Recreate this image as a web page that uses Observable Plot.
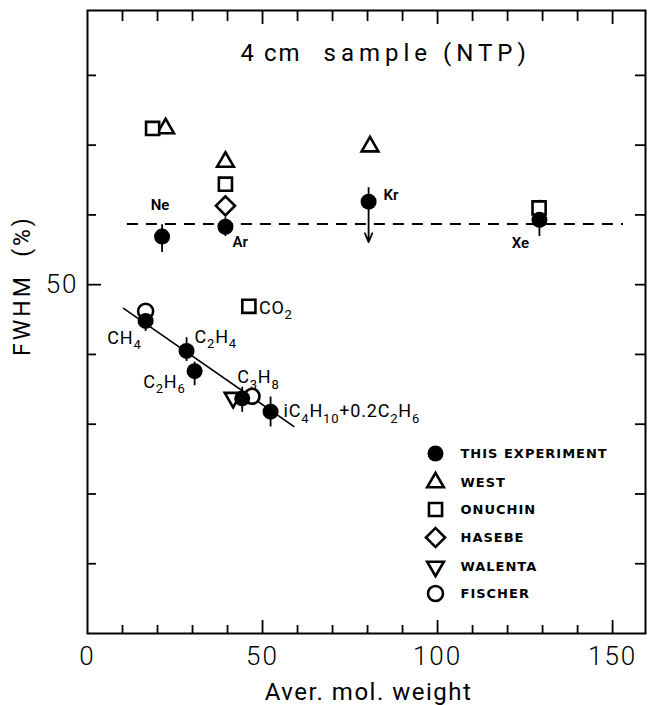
<!DOCTYPE html>
<html><head><meta charset="utf-8">
<script src="https://cdn.jsdelivr.net/npm/d3@7"></script>
<script src="https://cdn.jsdelivr.net/npm/@observablehq/plot@0.6"></script>
<style>
body{margin:0;background:#fff;}
#chart svg{display:block;}
</style></head><body><div id="chart"></div>
<script>
// ---------- data ----------
const gasNames   = ["Ne","Ar","Kr","Xe","CH4","C2H4","C2H6","C3H8","iC4H10+0.2C2H6"];
const thisWeight = [21.3, 39.4, 80.3, 129.1, 16.6, 28.3, 30.6, 44.2, 52.3];
const thisFwhm   = [56.9, 58.3, 61.9, 59.3, 44.8, 40.5, 37.6, 33.7, 31.8];
const errHigh    = [58.6, 59.6, 63.9, 62.1, 46.3, 42.4, 38.9, 35.3, 33.9];
const errLow     = [54.6, 56.9, 61.9, 56.9, 43.3, 39.0, 35.5, 31.7, 29.6];
const limitGas   = ["Kr"];
const limitTo    = [56.1];

const westWeight    = [22.3, 39.4, 80.7];
const westFwhm      = [72.4, 67.6, 69.8];
const onuchinWeight = [18.6, 39.4, 129.0, 46.1];
const onuchinFwhm   = [72.4, 64.4, 61.0, 46.9];
const onuchinLabels = ["", "", "", "CO2"];
const hasebeWeight  = [39.4];
const hasebeFwhm    = [61.3];
const walentaWeight = [41.6];
const walentaFwhm   = [33.8];
const fischerWeight = [16.6, 47.0];
const fischerFwhm   = [46.2, 34.0];

const fitWeight = [10.3, 58.9];
const fitFwhm   = [46.6, 29.7];
const refWeight = [11.4, 153.1];
const refFwhm   = [58.7];

const xTickLabels = [0, 50, 100, 150];
const yTickLabels = [50];
const xMinorTicks = [10,20,30,40,60,70,80,90,110,120,130,140];
const xMajorTicks = [50,100,150];
const yMinorTicks = [10,20,30,40,60,70,80];
const yMajorTicks = [50];
const legendNames = ["THIS EXPERIMENT","WEST","ONUCHIN","HASEBE","WALENTA","FISCHER"];
const titleParts  = ["4 cm", "sample (NTP)"];
const xTitle = "Aver. mol. weight";
const yTitle = "FWHM  (%)";

// ---------- styles / layout ----------
const FONT = "Roboto, 'DejaVu Sans', sans-serif";
const styles = {
  THIS:    {symbol:"circle",   r:8,   fill:"black", stroke:"none", rotate:0},
  WEST:    {symbol:"triangle", r:6.2, fill:"white", stroke:"black", rotate:0},
  ONUCHIN: {symbol:"square",   r:7.4, fill:"white", stroke:"black", rotate:0},
  HASEBE:  {symbol:"square",   r:7.6, fill:"white", stroke:"black", rotate:45},
  WALENTA: {symbol:"triangle", r:6.2, fill:"white", stroke:"black", rotate:180},
  FISCHER: {symbol:"circle",   r:7.5, fill:"white", stroke:"black", rotate:0}
};
const legendStyleKeys = ["THIS","WEST","ONUCHIN","HASEBE","WALENTA","FISCHER"];
const legendRowDy = [443, 472, 499, 527, 556, 583];
const labelOffsets = {
  "Ne": {dx:-2, dy:-31, anchor:"middle", size:15},
  "Ar": {dx:7, dy:15, anchor:"start", size:15},
  "Kr": {dx:15, dy:-6, anchor:"start", size:15},
  "Xe": {dx:-19, dy:23, anchor:"middle", size:15},
  "CH4": {dx:-4, dy:17, anchor:"end", size:18},
  "C2H4": {dx:8, dy:-14, anchor:"start", size:18},
  "C2H6": {dx:-9, dy:11, anchor:"end", size:18},
  "C3H8": {dx:-5, dy:-21, anchor:"start", size:18},
  "iC4H10+0.2C2H6": {dx:13, dy:0, anchor:"start", size:18}
};

const thisData = gasNames.map((g,i)=>({g, x:thisWeight[i], y:thisFwhm[i], lo:errLow[i], hi:errHigh[i]}));
const limitData = limitGas.map((g,i)=>{const j=gasNames.indexOf(g); return {x:thisWeight[j], y1:thisFwhm[j], y2:limitTo[i]};});
const pts = (xs,ys)=>xs.map((x,i)=>({x, y:ys[i], i}));
const openSeries = [
  ["WEST", pts(westWeight, westFwhm)],
  ["ONUCHIN", pts(onuchinWeight, onuchinFwhm)],
  ["HASEBE", pts(hasebeWeight, hasebeFwhm)],
  ["WALENTA", pts(walentaWeight, walentaFwhm)],
  ["FISCHER", pts(fischerWeight, fischerFwhm)]
];

const marks = [];
// axes ticks (inward)
const tk = {stroke:"black", strokeWidth:1.8, tickFormat:()=>"", label:null};
marks.push(Plot.axisX(xMinorTicks, {anchor:"bottom", tickSize:-8, ...tk}));
marks.push(Plot.axisX(xMajorTicks, {anchor:"bottom", tickSize:-13, ...tk}));
marks.push(Plot.axisX(xMinorTicks, {anchor:"top", tickSize:-10, ...tk}));
marks.push(Plot.axisX(xMajorTicks, {anchor:"top", tickSize:-13, ...tk}));
marks.push(Plot.axisY(yMinorTicks, {anchor:"left", tickSize:-9, ...tk}));
marks.push(Plot.axisY(yMajorTicks, {anchor:"left", tickSize:-14, ...tk}));
marks.push(Plot.axisY([...yMinorTicks, ...yMajorTicks], {anchor:"right", tickSize:-11, ...tk}));
// tick labels
marks.push(Plot.axisX(xTickLabels, {anchor:"bottom", tickSize:0, tickPadding:13, fontSize:26, fontWeight:300, label:null, tickFormat:d=>String(d)}));
marks.push(Plot.axisY(yTickLabels, {anchor:"left", tickSize:0, tickPadding:9, fontSize:26, fontWeight:300, label:null, tickFormat:d=>String(d)}));
marks.push(Plot.frame({stroke:"black", strokeWidth:2}));

// reference dashed line and fit line
marks.push(Plot.ruleY(refFwhm, {x1:refWeight[0], x2:refWeight[1], stroke:"black", strokeWidth:2, strokeDasharray:"11,8"}));
marks.push(Plot.line(pts(fitWeight, fitFwhm), {x:"x", y:"y", stroke:"black", strokeWidth:1.6}));

// error bars + limit arrow
marks.push(Plot.ruleX(thisData, {x:"x", y1:"lo", y2:"hi", stroke:"black", strokeWidth:1.8}));
marks.push(Plot.arrow(limitData, {x1:"x", x2:"x", y1:"y1", y2:"y2", stroke:"black", strokeWidth:1.8, headLength:8, headAngle:45}));

// open markers
for (const [key, data] of openSeries) {
  const s = styles[key];
  marks.push(Plot.dot(data, {x:"x", y:"y", symbol:s.symbol, r:s.r, fill:s.fill, stroke:s.stroke, strokeWidth:2.6, rotate:s.rotate}));
}
// filled markers on top
marks.push(Plot.dot(thisData, {x:"x", y:"y", symbol:"circle", r:styles.THIS.r, fill:"black"}));

// labels
for (const d of thisData) {
  const o = labelOffsets[d.g];
  marks.push(Plot.text([d], {x:"x", y:"y", text:"g", dx:o.dx, dy:o.dy, textAnchor:o.anchor, lineAnchor:"middle", fontSize:o.size, fontWeight:o.size<16?600:400, fill:"black"}));
}
marks.push(Plot.text(openSeries[1][1].filter(d=>onuchinLabels[d.i]), {x:"x", y:"y", text:d=>onuchinLabels[d.i], dx:10, dy:2, textAnchor:"start", lineAnchor:"middle", fontSize:18, fill:"black"}));

// title
marks.push(Plot.text([titleParts[0]], {frameAnchor:"top-left", text:d=>d, dx:153, dy:43, textAnchor:"start", lineAnchor:"middle", fontSize:24, fill:"black"}));
marks.push(Plot.text([titleParts[1]], {frameAnchor:"top-left", text:d=>d, dx:236, dy:43, textAnchor:"start", lineAnchor:"middle", fontSize:24, fill:"black"}));

// axis titles
marks.push(Plot.text([xTitle], {frameAnchor:"bottom-left", text:d=>d, dx:281, dy:59, textAnchor:"middle", lineAnchor:"middle", fontSize:24, fill:"black"}));
marks.push(Plot.text([yTitle], {frameAnchor:"top-left", text:d=>d, dx:-65, dy:275, rotate:-90, textAnchor:"middle", lineAnchor:"middle", fontSize:23, fill:"black"}));

// legend
legendNames.forEach((name, i) => {
  const s = styles[legendStyleKeys[i]];
  marks.push(Plot.dot([name], {frameAnchor:"top-left", dx:348, dy:legendRowDy[i], symbol:s.symbol, r:s.r, fill:s.fill, stroke:s.stroke, strokeWidth: s.fill==="black"?0:2.6, rotate:s.rotate}));
  marks.push(Plot.text([name], {frameAnchor:"top-left", text:d=>d, dx:373, dy:legendRowDy[i], textAnchor:"start", lineAnchor:"middle", fontSize:13, fontWeight:"bold", fontFamily:"'DejaVu Sans', sans-serif", fill:"black"}));
});

const chart = Plot.plot({
  width:649, height:705,
  marginLeft:87, marginTop:10, marginRight:4, marginBottom:72,
  x:{domain:[0,159.4]},
  y:{domain:[0,89.3]},
  style:{fontFamily:FONT, background:"white", color:"black", overflow:"visible"},
  marks
});

// ---------- post-processing of text: subscripts & letter spacing ----------
const formulas = new Set([...gasNames, ...onuchinLabels].filter(s => /[A-Za-z]\d/.test(s)));
function fontSizeOf(t) {
  let n = t;
  while (n && n.getAttribute) { const v = n.getAttribute("font-size"); if (v) return parseFloat(v); n = n.parentNode; }
  return 16;
}
chart.querySelectorAll("text").forEach(t => {
  const s = t.textContent;
  if (formulas.has(s)) {
    const fs = fontSizeOf(t);
    const parts = s.split(/(?<=[A-Za-z])(\d+)/);
    t.textContent = "";
    t.style.letterSpacing = "0.8px";
    let shifted = false;
    parts.forEach((p, k) => {
      if (!p) return;
      const ts = document.createElementNS("http://www.w3.org/2000/svg", "tspan");
      ts.textContent = p;
      if (k % 2 === 1) {
        ts.setAttribute("font-size", (fs*0.72).toFixed(1));
        if (!shifted) { ts.setAttribute("dy", (fs*0.3).toFixed(1)); shifted = true; }
      } else if (shifted) {
        ts.setAttribute("dy", (-fs*0.3).toFixed(1)); shifted = false;
      }
      t.appendChild(ts);
    });
  } else if (s === titleParts[0]) {
    t.style.letterSpacing = "2px";
  } else if (s === titleParts[1]) {
    t.style.letterSpacing = "5px";
  } else if (legendNames.includes(s)) {
    t.style.letterSpacing = "1px";
  } else if (s === xTitle) {
    t.style.letterSpacing = "1.5px";
  } else if (s === yTitle) {
    t.style.letterSpacing = "3px";
    t.style.whiteSpace = "pre";
  } else if (xTickLabels.map(String).includes(s)) {
    t.style.letterSpacing = "2px";
  }
});

document.getElementById("chart").appendChild(chart);
</script></body></html>
